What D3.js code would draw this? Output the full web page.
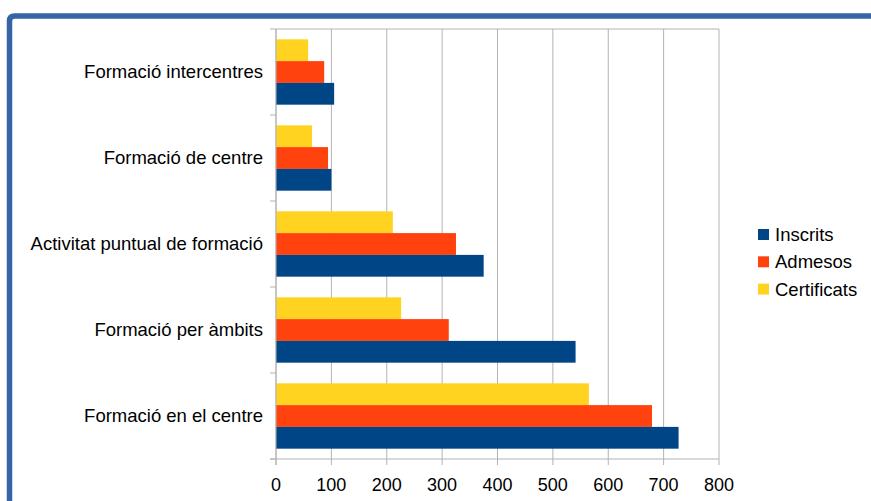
<!DOCTYPE html>
<html><head><meta charset="utf-8">
<script src="https://cdn.jsdelivr.net/npm/d3@7"></script>
<style>body{margin:0;background:#fff;}svg{display:block;font-family:"Liberation Sans",Arial,sans-serif;}</style>
</head><body><svg id="c" width="871" height="501"></svg>
<script>
const categories = ["Formació intercentres","Formació de centre","Activitat puntual de formació","Formació per àmbits","Formació en el centre"];
const seriesNames = ["Certificats","Admesos","Inscrits"];
const certificats = [58, 65, 211, 226, 565];
const admesos = [87, 94, 325, 312, 679];
const inscrits = [105, 100, 375, 541, 727];
const xTicks = [0,100,200,300,400,500,600,700,800];
const legendOrder = ["Inscrits","Admesos","Certificats"];
const colors = {Inscrits:"#004586", Admesos:"#ff420e", Certificats:"#ffd320"};
const values = {Certificats:certificats, Admesos:admesos, Inscrits:inscrits};

(function(){
const svg = d3.select("#c");
// frame
svg.append("path").attr("d","M9.5,501 L9.5,21 Q9.5,16 14.5,16 L871,16")
  .attr("fill","none").attr("stroke","#3465a4").attr("stroke-width",5.5);

const pL=276, pR=719, pT=29, pB=459;
const x = d3.scaleLinear().domain([0,800]).range([pL,pR]);
const y = d3.scaleBand().domain(categories).range([pT,pB]).padding(0);
const bw = y.bandwidth();
const inner = d3.scaleBand().domain(seriesNames).range([bw*0.12, bw*0.88]);

// gridlines
svg.append("g").selectAll("line").data(xTicks).join("line")
  .attr("x1",d=>x(d)).attr("x2",d=>x(d)).attr("y1",pT).attr("y2",pB)
  .attr("stroke","#b3b3b3").attr("stroke-width",1);
svg.append("line").attr("x1",pL).attr("x2",pR).attr("y1",pT).attr("y2",pT).attr("stroke","#b3b3b3");

// bars
categories.forEach((c,i)=>{
  seriesNames.forEach(s=>{
    svg.append("rect").attr("x",x(0)).attr("y",y(c)+inner(s))
      .attr("width",x(values[s][i])-x(0)).attr("height",inner.bandwidth())
      .attr("fill",colors[s]);
  });
});

// axes
const yb = [...categories.map(c=>y(c)), pB];
svg.append("line").attr("x1",pL).attr("x2",pL).attr("y1",pT).attr("y2",pB+6).attr("stroke","#b3b3b3");
svg.append("g").selectAll("line").data(yb).join("line")
  .attr("x1",pL-6).attr("x2",pL).attr("y1",d=>d).attr("y2",d=>d).attr("stroke","#b3b3b3");
svg.append("line").attr("x1",pL-6).attr("x2",pR).attr("y1",pB).attr("y2",pB).attr("stroke","#b3b3b3");
svg.append("g").selectAll("line").data(xTicks).join("line")
  .attr("x1",d=>x(d)).attr("x2",d=>x(d)).attr("y1",pB).attr("y2",pB+6).attr("stroke","#b3b3b3");

// labels
svg.append("g").selectAll("text").data(categories).join("text")
  .attr("x",263).attr("y",c=>y(c)+bw/2).attr("dy","0.35em").attr("text-anchor","end")
  .attr("font-size",18.5).attr("fill","#000").text(d=>d);
svg.append("g").selectAll("text").data(xTicks).join("text")
  .attr("x",d=>x(d)).attr("y",491).attr("text-anchor","middle")
  .attr("font-size",18).attr("fill","#000").text(d=>d);

// legend
legendOrder.forEach((s,i)=>{
  const yy = 229 + i*27.3;
  svg.append("rect").attr("x",758).attr("y",yy).attr("width",11).attr("height",11).attr("fill",colors[s]);
  svg.append("text").attr("x",775).attr("y",yy+5.5).attr("dy","0.35em").attr("font-size",18.5).attr("fill","#000").text(s);
});
})();
</script></body></html>
